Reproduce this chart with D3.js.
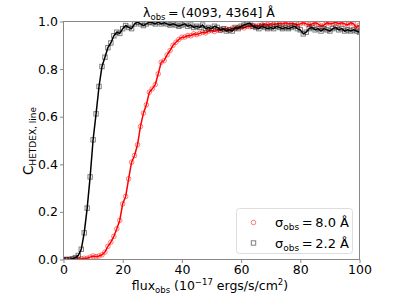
<!DOCTYPE html>
<html><head><meta charset="utf-8">
<script src="https://cdn.jsdelivr.net/npm/d3@7"></script>
<style>body{margin:0;background:#fff}svg{display:block}text{font-family:"DejaVu Sans",sans-serif;fill:#000}</style>
</head><body><svg id="c" width="399" height="299"></svg>
<script>
const fluxValues = d3.range(0, 101);
const seriesNames = ["σ_obs = 8.0 Å", "σ_obs = 2.2 Å"];
const sigmaLabels = ["8.0", "2.2"];
const broadValues = [0,0,0,0,0.002,0.002,0.003,0.005,0.005,0.01,0.015,0.012,0.015,0.02,0.031,0.055,0.073,0.097,0.129,0.164,
0.234,0.265,0.339,0.409,0.437,0.482,0.559,0.615,0.65,0.703,0.717,0.735,0.78,0.829,0.836,0.86,0.878,0.9,0.913,0.925,
0.934,0.935,0.941,0.94,0.948,0.945,0.95,0.955,0.952,0.96,0.962,0.958,0.965,0.962,0.968,0.969,0.965,0.972,0.97,0.975,
0.976,0.973,0.98,0.978,0.983,0.98,0.983,0.985,0.99,0.985,0.99,0.988,0.99,0.993,0.99,0.995,0.99,0.993,0.99,0.985,
0.99,0.995,0.99,0.985,0.99,0.995,0.99,0.98,0.985,0.995,0.99,0.993,0.997,0.99,0.995,0.99,0.985,0.995,0.99,0.975,0.985];
const narrowValues = [0,0,0,0.003,0.008,0.017,0.043,0.112,0.216,0.347,0.503,0.612,0.727,0.811,0.85,0.89,0.91,0.94,0.955,0.95,
0.97,0.983,0.975,0.97,0.99,0.997,0.99,0.983,0.99,0.997,0.995,0.99,0.997,0.99,0.995,0.99,0.985,0.99,0.985,0.98,
0.985,0.99,0.98,0.985,0.975,0.98,0.975,0.985,0.97,0.975,0.97,0.98,0.975,0.965,0.97,0.96,0.965,0.96,0.975,0.97,
0.98,0.985,0.99,0.993,0.98,0.975,0.97,0.98,0.975,0.97,0.975,0.97,0.98,0.975,0.97,0.975,0.97,0.975,0.98,0.97,
0.965,0.948,0.955,0.97,0.975,0.965,0.97,0.96,0.97,0.965,0.96,0.97,0.975,0.965,0.97,0.96,0.965,0.96,0.965,0.96,0.955];
const xTicks = [0,20,40,60,80,100];
const yTicks = [0,0.2,0.4,0.6,0.8,1.0];

const svg = d3.select("#c");
const x = d3.scaleLinear().domain([0,100]).range([63.5,359.5]);
const y = d3.scaleLinear().domain([0,1]).range([259.5,21.5]);
const spine = "#888";

svg.append("clipPath").attr("id","clip").append("rect")
  .attr("x",63.5).attr("y",21.5).attr("width",296).attr("height",238);

const g = svg.append("g").attr("clip-path","url(#clip)");
const line = d3.line().x((d,i)=>x(fluxValues[i])).y(d=>y(d));

function drawSeries(vals, color, shape){
  if(shape==="circle"){
    g.append("g").selectAll("circle").data(vals).join("circle")
      .attr("cx",(d,i)=>x(fluxValues[i])).attr("cy",d=>y(d)).attr("r",2.3)
      .attr("fill","none").attr("stroke",color).attr("stroke-opacity",0.5).attr("stroke-width",1);
  } else {
    g.append("g").selectAll("rect").data(vals).join("rect")
      .attr("x",(d,i)=>x(fluxValues[i])-2.2).attr("y",d=>y(d)-2.2).attr("width",4.4).attr("height",4.4)
      .attr("fill","none").attr("stroke",color).attr("stroke-opacity",0.5).attr("stroke-width",1);
  }
  g.append("path").datum(vals).attr("d",line).attr("fill","none").attr("stroke",color).attr("stroke-width",1.5);
}
drawSeries(broadValues,"#ff0000","circle");
drawSeries(narrowValues,"#000000","square");

// frame
svg.append("rect").attr("x",63.5).attr("y",21.5).attr("width",296).attr("height",238)
  .attr("fill","none").attr("stroke",spine).attr("stroke-width",1);

const xAxis = svg.append("g").attr("transform","translate(0,259.5)")
  .call(d3.axisBottom(x).tickValues(xTicks).tickSize(3.5).tickPadding(2).tickFormat(d3.format("d")));
const yAxis = svg.append("g").attr("transform","translate(63.5,0)")
  .call(d3.axisLeft(y).tickValues(yTicks).tickSize(3.5).tickPadding(2).tickFormat(d3.format(".1f")));
[xAxis,yAxis].forEach(a=>{
  a.select(".domain").remove();
  a.selectAll(".tick line").attr("stroke",spine);
  a.selectAll(".tick text").attr("font-size","12.5px").attr("font-family","DejaVu Sans").attr("fill","#000");
});

// title
const t = svg.append("text").attr("x",209).attr("y",17).attr("text-anchor","middle").attr("font-size","12.5px");
t.append("tspan").text("λ");
t.append("tspan").attr("font-size","8.5px").attr("dy",3).text("obs");
t.append("tspan").attr("dy",-3).text("\u2009=\u2009(4093, 4364] Å");

// x label
const xl = svg.append("text").attr("x",210).attr("y",290).attr("text-anchor","middle").attr("font-size","12.5px");
xl.append("tspan").text("flux");
xl.append("tspan").attr("font-size","8.5px").attr("dy",3).text("obs");
xl.append("tspan").attr("dy",-3).text(" (10");
xl.append("tspan").attr("font-size","8.5px").attr("dy",-5).text("−17");
xl.append("tspan").attr("dy",5).text(" ergs/s/cm");
xl.append("tspan").attr("font-size","8.5px").attr("dy",-5).text("2");
xl.append("tspan").attr("dy",5).text(")");

// y label
const yl = svg.append("text").attr("transform","translate(33,141) rotate(-90)").attr("text-anchor","middle").attr("font-size","13.5px");
yl.append("tspan").text("C");
yl.append("tspan").attr("font-size","9px").attr("dy",3).text("HETDEX, line");

// legend
const lg = svg.append("g");
lg.append("rect").attr("x",236.5).attr("y",208.5).attr("width",116).attr("height",45).attr("rx",3)
  .attr("fill","#fff").attr("fill-opacity",0.8).attr("stroke","#ddd").attr("stroke-width",1);
const rows = [{c:"#ff0000",s:"circle",lab:sigmaLabels[0],yy:222.5},{c:"#000000",s:"square",lab:sigmaLabels[1],yy:243}];
rows.forEach(r=>{
  if(r.s==="circle") lg.append("circle").attr("cx",253.5).attr("cy",r.yy).attr("r",2.3).attr("fill","none").attr("stroke",r.c).attr("stroke-opacity",0.5);
  else lg.append("rect").attr("x",251.3).attr("y",r.yy-2.2).attr("width",4.4).attr("height",4.4).attr("fill","none").attr("stroke",r.c).attr("stroke-opacity",0.5);
  const tx = lg.append("text").attr("x",275).attr("y",r.yy+4.5).attr("font-size","13px");
  tx.append("tspan").text("σ");
  tx.append("tspan").attr("font-size","9px").attr("dy",3).text("obs");
  tx.append("tspan").attr("dy",-3).text("\u2009=\u2009" + r.lab + " Å");
});
</script></body></html>
